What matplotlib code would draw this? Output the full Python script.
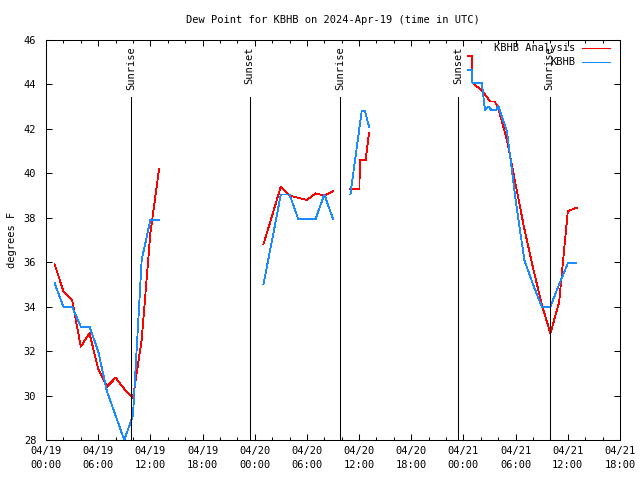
import numpy as np
import matplotlib

matplotlib.use("Agg")
import matplotlib.pyplot as plt
from matplotlib.ticker import MultipleLocator

# hours since 2024-04-19 00:00 UTC, nan = gap in data
ana_hours = [1, 2, 3, 4, 5, 6, 7, 8, 9, 10, 11, 12, 13, np.nan,
             25, 26, 27, 28, 29, 30, 31, 32, 33, np.nan,
             35.0, 36.05, 36.07, 36.75, 37.14, np.nan,
             48.56, 49.0, 49.02, 50.28, 51.05, 51.6, 52.0, 53, 54, 55, 56, 57, 58, 59, 60, 61]
ana_dewpt = [35.9, 34.7, 34.3, 32.2, 32.8, 31.2, 30.4, 30.8, 30.3, 29.9, 32.5, 37.3, 40.2, np.nan,
             36.8, 38.1, 39.4, 39.0, 38.9, 38.8, 39.1, 39.0, 39.2, np.nan,
             39.3, 39.3, 40.6, 40.6, 41.8, np.nan,
             45.28, 45.28, 44.08, 43.67, 43.23, 43.23, 42.93, 41.5, 39.5, 37.5, 35.75, 34.1, 32.8, 34.2, 38.3, 38.45]

obs_hours = [1, 2, 3, 4, 5, 6, 7, 8, 9, 10, 11, 12, 13, np.nan,
             25, 26, 27, 28, 29, 30, 31, 32, 33, np.nan,
             35.0, 36.3, 36.68, 37.14, np.nan,
             48.56, 49.02, 49.03, 50.1, 50.48, 50.9, 51.2, 51.8, 52.0, 53, 54, 55, 56, 57, 58, 59, 60, 61]
obs_dewpt = [35.05, 34.0, 34.0, 33.1, 33.1, 32.0, 30.2, 29.1, 28.0, 29.1, 36.1, 37.9, 37.9, np.nan,
             35.0, 37.0, 39.05, 39.05, 37.95, 37.95, 37.95, 39.05, 37.95, np.nan,
             39.05, 42.8, 42.8, 42.1, np.nan,
             44.65, 44.65, 44.08, 44.08, 42.85, 43.0, 42.85, 42.85, 43.03, 41.9, 38.8, 36.1, 35.0, 34.0, 34.0, 35.0, 35.95, 35.95]

sun_hours = [9.8, 23.4, 33.85, 47.4, 57.9]
sun_labels = ["Sunrise", "Sunset", "Sunrise", "Sunset", "Sunrise"]

tick_hours = list(range(0, 67, 6))
tick_labels = ["04/19\n00:00", "04/19\n06:00", "04/19\n12:00", "04/19\n18:00",
               "04/20\n00:00", "04/20\n06:00", "04/20\n12:00", "04/20\n18:00",
               "04/21\n00:00", "04/21\n06:00", "04/21\n12:00", "04/21\n18:00"]

FONT = "DejaVu Sans Mono"
plt.rcParams["font.family"] = FONT
plt.rcParams["font.size"] = 7.5

LW = 0.75

fig = plt.figure(figsize=(6.4, 4.8), dpi=100)
ax = fig.add_axes([46 / 640, 40 / 480, 574 / 640, 400 / 480])

ax.plot(ana_hours, ana_dewpt, color="#ff0000", lw=0.6, antialiased=False)
ax.plot(obs_hours, obs_dewpt, color="#1a8cff", lw=0.6, antialiased=False)

for h, lab in zip(sun_hours, sun_labels):
    ax.plot([h, h], [28, 43.45], color="black", lw=LW)
    ax.text(h, 45.7, lab, rotation=90, ha="center", va="top", fontsize=7.5)

ax.set_xlim(0, 66)
ax.set_ylim(28, 46)
ax.set_xticks(tick_hours)
ax.set_xticklabels(tick_labels)
for t in ax.get_xticklabels():
    t.set_linespacing(1.55)
ax.xaxis.set_minor_locator(MultipleLocator(2))
ax.yaxis.set_major_locator(MultipleLocator(2))
ax.tick_params(which="both", direction="in", top=True, right=True, colors="black")
ax.tick_params(which="major", length=4, width=LW)
ax.tick_params(which="minor", length=2.5, width=LW)
ax.tick_params(axis="x", pad=4)
ax.tick_params(axis="y", pad=7)
for s in ax.spines.values():
    s.set_linewidth(LW)

# legend, drawn the gnuplot way
ax.text(0.9216, 0.98, "KBHB Analysis", transform=ax.transAxes, ha="right", va="center")
ax.plot([0.934, 0.9826], [0.98, 0.98], transform=ax.transAxes, color="#ff0000", lw=LW)
ax.text(0.9216, 0.945, "KBHB", transform=ax.transAxes, ha="right", va="center")
ax.plot([0.934, 0.9826], [0.945, 0.945], transform=ax.transAxes, color="#1a8cff", lw=LW)

fig.text(333 / 640, 1 - 20 / 480, "Dew Point for KBHB on 2024-Apr-19 (time in UTC)",
         ha="center", va="center", fontsize=7.5)
fig.text(12 / 640, 0.5, "degrees F", rotation=90, ha="center", va="center", fontsize=7.5)

fig.savefig("out.png", dpi=100, facecolor="white")
